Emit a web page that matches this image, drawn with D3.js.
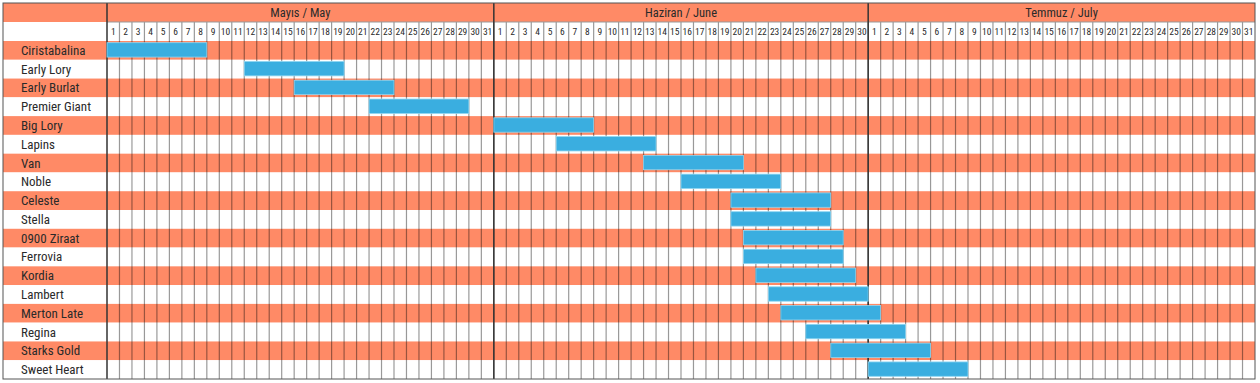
<!DOCTYPE html>
<html><head><meta charset="utf-8">
<script src="https://cdn.jsdelivr.net/npm/d3@7"></script>
<style>
html,body{margin:0;padding:0;background:#fff;}
svg{display:block;}
text{font-family:'Roboto Condensed','Liberation Sans Narrow',sans-serif;fill:#2a2a2a;font-weight:400;}
</style></head>
<body>
<svg id="chart" width="1260" height="383"></svg>
<script>
const varieties = ["Ciristabalina","Early Lory","Early Burlat","Premier Giant","Big Lory","Lapins","Van","Noble","Celeste","Stella","0900 Ziraat","Ferrovia","Kordia","Lambert","Merton Late","Regina","Starks Gold","Sweet Heart"];
const startDates = ["05-01","05-12","05-16","05-22","06-01","06-06","06-13","06-16","06-20","06-20","06-21","06-21","06-22","06-23","06-24","06-26","06-28","07-01"];
const endDates   = ["05-08","05-19","05-23","05-29","06-08","06-13","06-20","06-23","06-27","06-27","06-28","06-28","06-29","06-30","07-01","07-03","07-05","07-08"];
const monthLabels = ["Mayıs / May","Haziran / June","Temmuz / July"];
const monthStarts = ["05-01","06-01","07-01"];
const monthDays = [31,30,31];

(function(){
const year = 2023;
const parse = s => new Date(Date.UTC(year, +s.slice(0,2)-1, +s.slice(3)));
const nextDay = d => new Date(d.getTime() + 864e5);

const mLeft = 3, labelRight = 107, mRight = 1255, mTop = 3;
const h1 = 19, h2 = 19, mBottom = 379;
const dataTop = mTop + h1 + h2;
const salmon = "#FF8A66", blue = "#3AAEE0";

const svg = d3.select("#chart");
const x = d3.scaleUtc().domain([parse("05-01"), parse("08-01")]).range([labelRight, mRight]);
const y = d3.scaleBand().domain(varieties).range([dataTop, mBottom]).padding(0);
const rowH = y.bandwidth();

const days = d3.utcDay.range(parse("05-01"), parse("08-01"));

svg.append("rect").attr("x", mLeft).attr("y", mTop).attr("width", mRight-mLeft).attr("height", h1).attr("fill", salmon);
svg.append("rect").attr("x", mLeft).attr("y", mTop+h1).attr("width", mRight-mLeft).attr("height", h2).attr("fill", "#fff");

svg.append("g").selectAll("rect").data(varieties).join("rect")
  .attr("x", mLeft).attr("y", d => y(d)).attr("width", mRight-mLeft).attr("height", rowH)
  .attr("fill", (d,i) => i % 2 === 0 ? salmon : "#fff");

svg.append("g").selectAll("line").data(days.slice(1)).join("line")
  .attr("x1", d => x(d)).attr("x2", d => x(d))
  .attr("y1", mTop+h1).attr("y2", mBottom)
  .attr("stroke", "rgba(0,0,0,0.4)").attr("stroke-width", 1.2);

svg.append("line").attr("x1", labelRight).attr("x2", mRight).attr("y1", mTop+h1).attr("y2", mTop+h1)
  .attr("stroke", "#999").attr("stroke-width", 1);

const seps = [labelRight].concat(monthStarts.slice(1).map(s => x(parse(s))));
svg.append("g").selectAll("line").data(seps).join("line")
  .attr("x1", d => d).attr("x2", d => d).attr("y1", mTop).attr("y2", mBottom)
  .attr("stroke", "#333").attr("stroke-width", 1.5);

svg.append("g").selectAll("rect").data(varieties).join("rect")
  .attr("x", (d,i) => x(parse(startDates[i])))
  .attr("width", (d,i) => x(nextDay(parse(endDates[i]))) - x(parse(startDates[i])))
  .attr("y", d => y(d) + 1.7)
  .attr("height", rowH - 4.4)
  .attr("fill", blue).attr("stroke", "#8fd6f2").attr("stroke-width", 0.8);

svg.append("rect").attr("x", mLeft).attr("y", mTop).attr("width", mRight-mLeft).attr("height", mBottom-mTop)
  .attr("fill", "none").attr("stroke", "#555").attr("stroke-width", 1);

svg.append("g").selectAll("text").data(monthLabels).join("text")
  .attr("x", (d,i) => (x(parse(monthStarts[i])) + x(d3.utcDay.offset(parse(monthStarts[i]), monthDays[i])))/2)
  .attr("y", mTop + h1/2 + 4.3)
  .attr("text-anchor", "middle").attr("font-size", 12.5)
  .text(d => d);

svg.append("g").selectAll("text").data(days).join("text")
  .attr("x", d => (x(d) + x(nextDay(d)))/2)
  .attr("y", mTop + h1 + h2/2 + 3.3)
  .attr("text-anchor", "middle").attr("font-size", 9.5)
  .text(d => d.getUTCDate());

svg.append("g").selectAll("text").data(varieties).join("text")
  .attr("x", 21).attr("y", d => y(d) + rowH/2 + 4.5)
  .attr("font-size", 13)
  .text(d => d);
})();
</script>
</body></html>
